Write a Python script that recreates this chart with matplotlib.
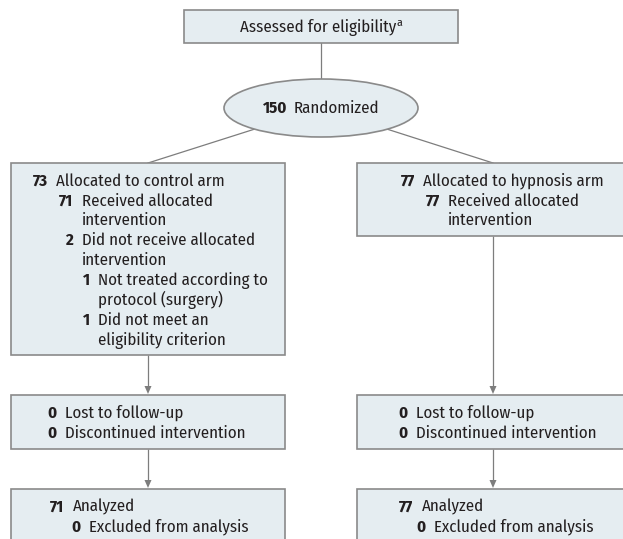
import matplotlib
matplotlib.use("Agg")
import matplotlib.pyplot as plt
from matplotlib.patches import Rectangle, Ellipse, Polygon
import numpy as np

# ---------------- data ----------------
assessed_label = "Assessed for eligibility"
assessed_note = "a"
randomized_n = 150
randomized_label = "Randomized"

# (count, text, indent level)
control_alloc = [(73, "Allocated to control arm", 0),
                 (71, "Received allocated\nintervention", 1),
                 (2, "Did not receive allocated\nintervention", 1),
                 (1, "Not treated according to\nprotocol (surgery)", 2),
                 (1, "Did not meet an\neligibility criterion", 2)]
hypnosis_alloc = [(77, "Allocated to hypnosis arm", 0),
                  (77, "Received allocated\nintervention", 1)]
control_follow = [(0, "Lost to follow-up", 0),
                  (0, "Discontinued intervention", 0)]
hypnosis_follow = [(0, "Lost to follow-up", 0),
                   (0, "Discontinued intervention", 0)]
control_analysis = [(71, "Analyzed", 0),
                    (0, "Excluded from analysis", 1)]
hypnosis_analysis = [(77, "Analyzed", 0),
                     (0, "Excluded from analysis", 1)]

# ---------------- style ----------------
W, H = 623, 539
FILL = "#e5edf1"
EDGE = "#8a8a8a"
LINE = "#7d7d7d"
TXT = "#231f20"
FONT = ["Fira Sans Condensed", "DejaVu Sans"]
LH = 19.9  # line height (px)

fig = plt.figure(figsize=(W / 100, H / 100), dpi=100)
ax = fig.add_axes([0, 0, 1, 1])
ax.set_xlim(0, W)
ax.set_ylim(H, 0)
ax.axis("off")
renderer = fig.canvas.get_renderer()

# fit font size to reference text width
probe = ax.text(0, 0, "Allocated to control arm", fontsize=11, family=FONT)
pw = probe.get_window_extent(renderer).width
probe.remove()
FS = 11 * 168.0 / pw


def box(x, y, w, h):
    ax.add_patch(Rectangle((x, y), w, h, facecolor=FILL, edgecolor=EDGE,
                           lw=1.2, zorder=2))


def tw(s, bold=False, fs=None):
    t = ax.text(0, 0, s, fontsize=fs or FS, family=FONT,
                fontweight="bold" if bold else "normal")
    w = t.get_window_extent(renderer).width
    t.remove()
    return w


def entries(items, cols, y0):
    """cols: list of (number right edge, text left) per indent level"""
    y = y0
    for n, text, lvl in items:
        xr, xt = cols[lvl]
        ax.text(xr, y, str(n), ha="right", va="center", fontsize=FS,
                family=FONT, fontweight="bold", color=TXT, zorder=3)
        for line in text.split("\n"):
            ax.text(xt, y, line, ha="left", va="center", fontsize=FS,
                    family=FONT, color=TXT, zorder=3)
            y += LH


def arrow(x, y1, y2):
    ax.plot([x, x], [y1, y2 - 7], color=LINE, lw=0.9, zorder=1,
            solid_capstyle="butt")
    ax.add_patch(Polygon([[x - 3.5, y2 - 9], [x + 3.5, y2 - 9], [x, y2 - 1]],
                         closed=True, facecolor=LINE, edgecolor="none",
                         zorder=1))


# top box
box(184, 10, 274, 33)
w1 = tw(assessed_label)
w2 = tw(assessed_note, fs=FS * 0.7)
x0 = 321 - (w1 + w2) / 2
ax.text(x0, 27, assessed_label, ha="left", va="center", fontsize=FS,
        family=FONT, color=TXT, zorder=3)
ax.text(x0 + w1 + 0.5, 22.5, assessed_note, ha="left", va="center",
        fontsize=FS * 0.7, family=FONT, color=TXT, zorder=3)

# connector to ellipse
ecx, ecy, ea, eb = 321, 108, 97, 29
ax.plot([321, 321], [43, ecy - eb], color=LINE, lw=0.9, zorder=1)

# ellipse
ax.add_patch(Ellipse((ecx, ecy), 2 * ea, 2 * eb, facecolor=FILL,
                     edgecolor=EDGE, lw=1.2, zorder=2))
wn = tw(str(randomized_n), bold=True)
wl = tw(randomized_label)
gap = 7
xs = ecx - (wn + gap + wl) / 2
ax.text(xs, ecy, str(randomized_n), ha="left", va="center", fontsize=FS,
        family=FONT, fontweight="bold", color=TXT, zorder=3)
ax.text(xs + wn + gap, ecy, randomized_label, ha="left", va="center",
        fontsize=FS, family=FONT, color=TXT, zorder=3)

# diagonal connectors from ellipse to arm boxes
for bx in (148, 493):
    dx, dy = bx - ecx, 163 - ecy
    t = 1 / np.sqrt((dx / ea) ** 2 + (dy / eb) ** 2)
    ax.plot([ecx + dx * t, bx], [ecy + dy * t, 163], color=LINE, lw=0.9,
            zorder=1)

# arm boxes
box(11, 163, 274, 192)
entries(control_alloc, [(48, 56), (73, 82), (90, 98)], 181)
box(357, 163, 274, 73)
entries(hypnosis_alloc, [(415, 423), (440, 448)], 181)

# arrows
arrow(148, 355, 395)
arrow(493, 236, 395)

# follow-up boxes
box(11, 395, 274, 54)
entries(control_follow, [(57, 65)], 413)
box(357, 395, 274, 54)
entries(hypnosis_follow, [(408, 416)], 413)

arrow(148, 449, 489)
arrow(493, 449, 489)

# analysis boxes
box(11, 489, 274, 70)
entries(control_analysis, [(64, 73), (81, 89)], 507)
box(357, 489, 274, 70)
entries(hypnosis_analysis, [(413, 422), (426, 434)], 507)

fig.savefig("out.png", dpi=100)
